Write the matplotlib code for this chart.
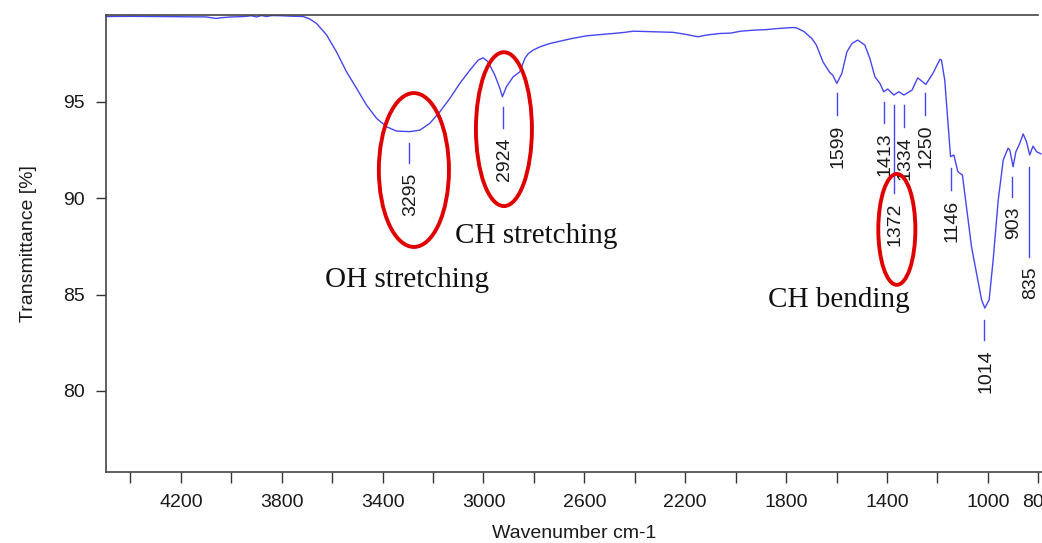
import matplotlib.pyplot as plt
from matplotlib.patches import Ellipse

# spectrum (wavenumber, transmittance %)
wavenumber = [4497, 4400, 4300, 4200, 4100, 4060, 4040, 4000, 3950, 3920, 3900, 3880,
              3860, 3840, 3800, 3768, 3715, 3690, 3662, 3622, 3583, 3543, 3503, 3464,
              3424, 3384, 3345, 3292, 3252, 3213, 3173, 3133, 3094, 3054, 3021, 3001,
              2982, 2955, 2935, 2925, 2909, 2882, 2856, 2836, 2822, 2803, 2776, 2737,
              2697, 2650, 2591, 2540, 2486, 2440, 2407, 2350, 2300, 2248, 2200, 2170,
              2149, 2120, 2090, 2063, 2020, 1980, 1931, 1880, 1840, 1798, 1773, 1759,
              1730, 1706, 1698, 1680, 1654, 1627, 1615, 1599, 1579, 1559, 1539, 1516,
              1488, 1468, 1448, 1428, 1413, 1397, 1373, 1353, 1333, 1301, 1278, 1246,
              1218, 1190, 1184, 1171, 1159, 1148, 1135, 1119, 1101, 1085, 1065, 1045,
              1025, 1012, 995, 979, 959, 939, 920, 913, 900, 889, 876, 860, 847, 834,
              821, 807, 790]
transmittance = [99.42, 99.43, 99.42, 99.41, 99.40, 99.32, 99.36, 99.40, 99.42, 99.46, 99.40, 99.47,
                 99.42, 99.47, 99.46, 99.44, 99.42, 99.30, 99.06, 98.46, 97.59, 96.55, 95.69, 94.83,
                 94.14, 93.70, 93.48, 93.45, 93.53, 93.88, 94.48, 95.18, 95.95, 96.64, 97.16, 97.28,
                 97.07, 96.38, 95.69, 95.26, 95.78, 96.30, 96.55, 97.25, 97.50, 97.68, 97.85, 98.02,
                 98.14, 98.28, 98.42, 98.48, 98.54, 98.60, 98.66, 98.64, 98.62, 98.60, 98.50, 98.42,
                 98.37, 98.45, 98.50, 98.54, 98.56, 98.66, 98.71, 98.74, 98.79, 98.83, 98.85, 98.83,
                 98.65, 98.37, 98.28, 97.94, 97.07, 96.52, 96.38, 95.95, 96.47, 97.59, 98.02, 98.20,
                 97.94, 97.25, 96.30, 95.95, 95.52, 95.66, 95.35, 95.52, 95.35, 95.60, 96.24, 95.90,
                 96.47, 97.20, 97.16, 96.12, 94.05, 92.15, 92.24, 91.37, 91.20, 89.56, 87.49, 86.10,
                 84.73, 84.30, 84.73, 86.80, 89.90, 91.98, 92.59, 92.50, 91.63, 92.41, 92.76, 93.33,
                 92.93, 92.24, 92.70, 92.41, 92.30]

# peak markers: label, marker line top / bottom (in %)
peak_labels = ['3295', '2924', '1599', '1413', '1372', '1334', '1250', '1146', '1014', '903', '835']
peak_wn = [3295, 2924, 1599, 1413, 1372, 1334, 1250, 1146, 1014, 903, 835]
peak_top = [92.86, 94.73, 95.45, 94.98, 94.83, 94.83, 95.45, 91.56, 83.70, 91.10, 91.60]
peak_bottom = [91.82, 93.64, 94.30, 93.90, 90.27, 93.70, 94.30, 90.40, 82.66, 90.06, 86.95]

# highlighted bands (centre wn, centre %, width wn, height %)
band_x = [3276, 2919, 1361]
band_y = [91.46, 93.58, 88.38]
band_w = [278, 222, 147]
band_h = [7.98, 7.98, 5.75]

notes = ['OH stretching', 'CH stretching', 'CH bending']
note_x = [3629, 3114, 1872]
note_y = [85.40, 87.68, 84.38]

blue = '#4646f0'
plt.rcParams['font.family'] = ['Liberation Sans', 'DejaVu Sans']

fig = plt.figure(figsize=(10.42, 5.43), dpi=100)
ax = fig.add_axes([0.1017, 0.1308, 0.8996, 0.8416])

ax.plot(wavenumber, transmittance, color=blue, lw=1.0)

for lab, x, t, b in zip(peak_labels, peak_wn, peak_top, peak_bottom):
    ax.plot([x, x], [t, b], color=blue, lw=1.0)
    ax.annotate(lab, xy=(x, b), xytext=(1, -7), textcoords='offset points',
                rotation=90, ha='center', va='top', fontsize=14, color='#1a1a1a')

for x, y, w, h in zip(band_x, band_y, band_w, band_h):
    ax.add_patch(Ellipse((x, y), w, h, fill=False, edgecolor='#e00000', lw=2.8, zorder=5))

for s, x, y in zip(notes, note_x, note_y):
    ax.text(x, y, s, family='Liberation Serif', fontsize=21, ha='left', va='baseline',
            color='#111111')

ax.set_xlim(4497, 780)
ax.set_ylim(75.8, 99.5)

xt = list(range(4400, 799, -200))
ax.set_xticks(xt)
ax.set_xticklabels([str(v) if (4200 - v) % 400 == 0 or v == 800 else '' for v in xt])
ax.set_yticks([80, 85, 90, 95])
ax.tick_params(axis='x', direction='out', length=8, width=1, pad=8, labelsize=14,
               colors='#333333', labelcolor='#1a1a1a')
ax.tick_params(axis='y', direction='out', length=7, width=1, pad=8, labelsize=14,
               colors='#333333', labelcolor='#1a1a1a')

for side in ['left', 'bottom', 'top']:
    ax.spines[side].set_color('#444444')
    ax.spines[side].set_linewidth(1.2)
ax.spines['right'].set_visible(False)
ax.spines['top'].set_bounds(4497, 800)

ax.set_xlabel('Wavenumber cm-1', fontsize=14, color='#1a1a1a')
ax.set_ylabel('Transmittance [%]', fontsize=14, color='#1a1a1a')
ax.xaxis.set_label_coords(0.5, -0.117)
ax.yaxis.set_label_coords(-0.074, 0.5)

fig.savefig('out.png', dpi=100)
